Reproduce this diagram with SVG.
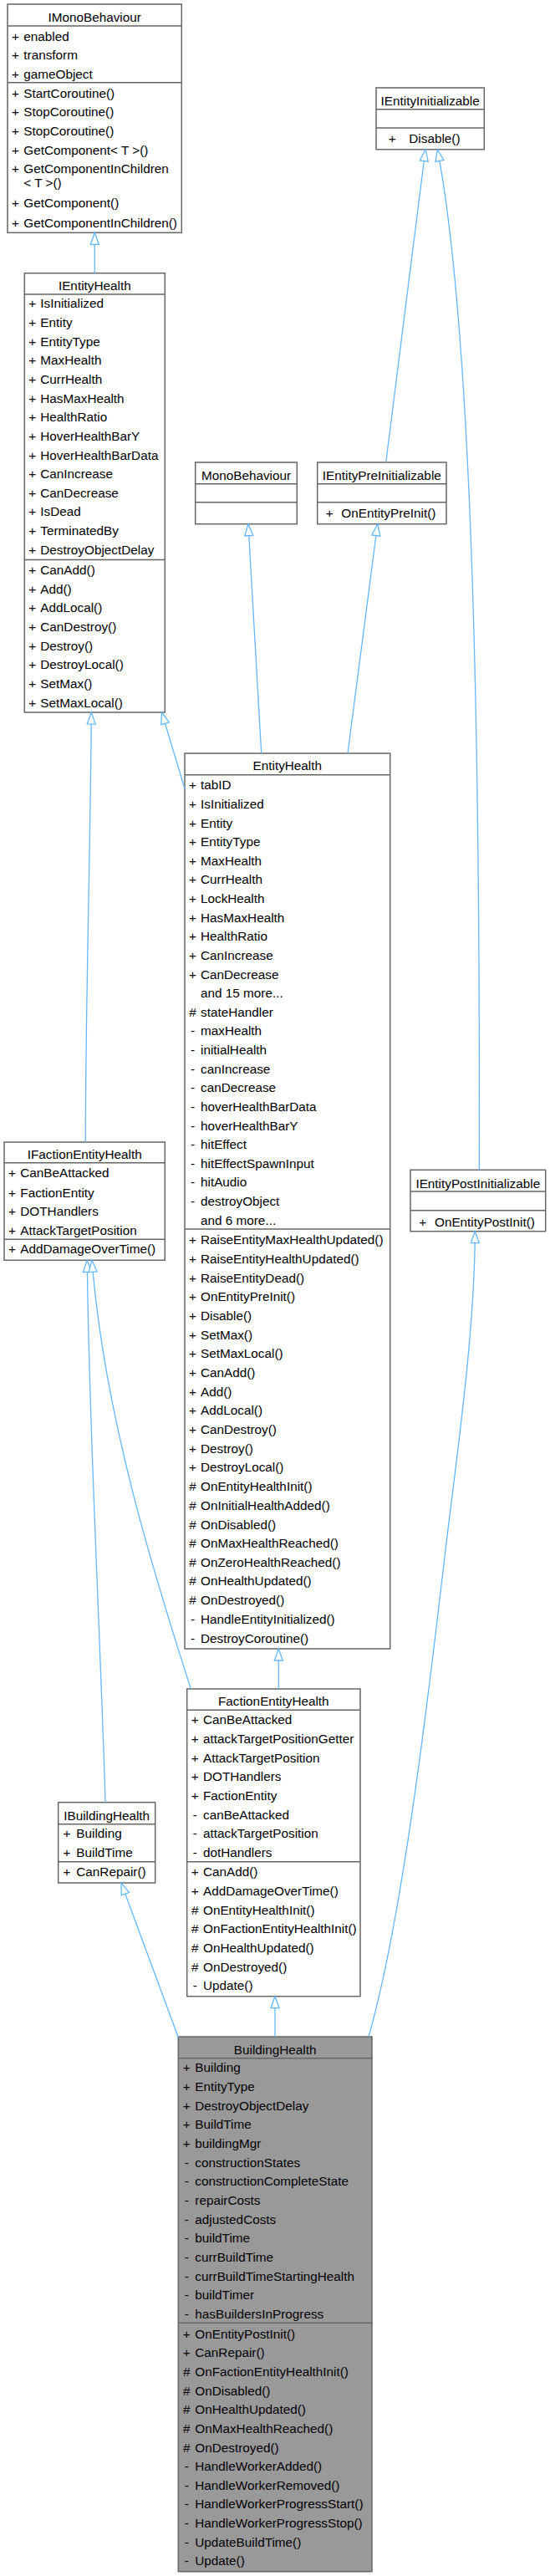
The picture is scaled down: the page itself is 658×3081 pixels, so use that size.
<svg xmlns="http://www.w3.org/2000/svg" width="658" height="3081" viewBox="0 0 658 3081">
<style>
.box{fill:#fff;stroke:#666;stroke-width:1.5}
.main{fill:#999;stroke:#666;stroke-width:1.5}
.sep{stroke:#666;stroke-width:1.5}
text{font-family:"Liberation Sans",Arial,Helvetica,sans-serif;font-size:15.3px;fill:#000}
.h,.s{text-anchor:middle}
.e{fill:none;stroke:#63b8ff;stroke-width:1.3;marker-end:url(#inh)}
</style>
<defs>
<marker id="inh" markerUnits="userSpaceOnUse" markerWidth="16" markerHeight="12" refX="14" refY="6" orient="auto" overflow="visible">
<path d="M0,1 L14,6 L0,11 Z" fill="#fff" stroke="#63b8ff" stroke-width="1.3"/>
</marker>
</defs>

<g id="IMonoBehaviour">
<rect class="box" x="9" y="5" width="208.3" height="273.3"/>
<line class="sep" x1="9" y1="31" x2="217.3" y2="31"/>
<line class="sep" x1="9" y1="98.7" x2="217.3" y2="98.7"/>
<text class="h" x="113.2" y="25.5">IMonoBehaviour</text>
<text class="s" x="18.5" y="48.5">+</text><text x="28.3" y="48.5">enabled</text>
<text class="s" x="18.5" y="71">+</text><text x="28.3" y="71">transform</text>
<text class="s" x="18.5" y="93.5">+</text><text x="28.3" y="93.5">gameObject</text>
<text class="s" x="18.5" y="117.3">+</text><text x="28.3" y="117.3">StartCoroutine()</text>
<text class="s" x="18.5" y="139.3">+</text><text x="28.3" y="139.3">StopCoroutine()</text>
<text class="s" x="18.5" y="161.6">+</text><text x="28.3" y="161.6">StopCoroutine()</text>
<text class="s" x="18.5" y="185">+</text><text x="28.3" y="185">GetComponent&lt; T &gt;()</text>
<text class="s" x="18.5" y="207">+</text><text x="28.3" y="207">GetComponentInChildren</text>
<text x="28.3" y="224">&lt; T &gt;()</text>
<text class="s" x="18.5" y="248.3">+</text><text x="28.3" y="248.3">GetComponent()</text>
<text class="s" x="18.5" y="271.7">+</text><text x="28.3" y="271.7">GetComponentInChildren()</text>
</g>

<g id="IEntityHealth">
<rect class="box" x="29.3" y="326.7" width="168" height="525.3"/>
<line class="sep" x1="29.3" y1="352" x2="197.3" y2="352"/>
<line class="sep" x1="29.3" y1="669.5" x2="197.3" y2="669.5"/>
<text class="h" x="113.3" y="346.7">IEntityHealth</text>
<text class="s" x="38.8" y="368.3">+</text><text x="48.3" y="368.3">IsInitialized</text>
<text class="s" x="38.8" y="390.95">+</text><text x="48.3" y="390.95">Entity</text>
<text class="s" x="38.8" y="413.6">+</text><text x="48.3" y="413.6">EntityType</text>
<text class="s" x="38.8" y="436.25">+</text><text x="48.3" y="436.25">MaxHealth</text>
<text class="s" x="38.8" y="458.9">+</text><text x="48.3" y="458.9">CurrHealth</text>
<text class="s" x="38.8" y="481.55">+</text><text x="48.3" y="481.55">HasMaxHealth</text>
<text class="s" x="38.8" y="504.2">+</text><text x="48.3" y="504.2">HealthRatio</text>
<text class="s" x="38.8" y="526.85">+</text><text x="48.3" y="526.85">HoverHealthBarY</text>
<text class="s" x="38.8" y="549.5">+</text><text x="48.3" y="549.5">HoverHealthBarData</text>
<text class="s" x="38.8" y="572.15">+</text><text x="48.3" y="572.15">CanIncrease</text>
<text class="s" x="38.8" y="594.8">+</text><text x="48.3" y="594.8">CanDecrease</text>
<text class="s" x="38.8" y="617.45">+</text><text x="48.3" y="617.45">IsDead</text>
<text class="s" x="38.8" y="640.1">+</text><text x="48.3" y="640.1">TerminatedBy</text>
<text class="s" x="38.8" y="662.75">+</text><text x="48.3" y="662.75">DestroyObjectDelay</text>
<text class="s" x="38.8" y="687">+</text><text x="48.3" y="687">CanAdd()</text>
<text class="s" x="38.8" y="709.65">+</text><text x="48.3" y="709.65">Add()</text>
<text class="s" x="38.8" y="732.3">+</text><text x="48.3" y="732.3">AddLocal()</text>
<text class="s" x="38.8" y="754.95">+</text><text x="48.3" y="754.95">CanDestroy()</text>
<text class="s" x="38.8" y="777.6">+</text><text x="48.3" y="777.6">Destroy()</text>
<text class="s" x="38.8" y="800.25">+</text><text x="48.3" y="800.25">DestroyLocal()</text>
<text class="s" x="38.8" y="822.9">+</text><text x="48.3" y="822.9">SetMax()</text>
<text class="s" x="38.8" y="845.55">+</text><text x="48.3" y="845.55">SetMaxLocal()</text>
</g>

<g id="IEntityInitializable">
<rect class="box" x="450" y="105" width="129.3" height="73.7"/>
<line class="sep" x1="450" y1="130.7" x2="579.3" y2="130.7"/>
<line class="sep" x1="450" y1="153" x2="579.3" y2="153"/>
<text class="h" x="514.7" y="126">IEntityInitializable</text>
<text class="s" x="469.3" y="170.5">+</text><text x="489.3" y="170.5">Disable()</text>
</g>

<g id="MonoBehaviour">
<rect class="box" x="233.7" y="553" width="121.6" height="73.7"/>
<line class="sep" x1="233.7" y1="578.7" x2="355.3" y2="578.7"/>
<line class="sep" x1="233.7" y1="600.7" x2="355.3" y2="600.7"/>
<text class="h" x="294.5" y="573.5">MonoBehaviour</text>
</g>

<g id="IEntityPreInitializable">
<rect class="box" x="379.7" y="553" width="154.3" height="73.7"/>
<line class="sep" x1="379.7" y1="578.7" x2="534" y2="578.7"/>
<line class="sep" x1="379.7" y1="600.7" x2="534" y2="600.7"/>
<text class="h" x="456.8" y="573.5">IEntityPreInitializable</text>
<text class="s" x="394.3" y="618.5">+</text><text x="408.3" y="618.5">OnEntityPreInit()</text>
</g>

<g id="EntityHealth">
<rect class="box" x="221" y="901" width="245.7" height="1071"/>
<line class="sep" x1="221" y1="926.7" x2="466.7" y2="926.7"/>
<line class="sep" x1="221" y1="1470" x2="466.7" y2="1470"/>
<text class="h" x="343.8" y="921">EntityHealth</text>
<text class="s" x="230.5" y="944.3">+</text><text x="240" y="944.3">tabID</text>
<text class="s" x="230.5" y="966.9">+</text><text x="240" y="966.9">IsInitialized</text>
<text class="s" x="230.5" y="989.5">+</text><text x="240" y="989.5">Entity</text>
<text class="s" x="230.5" y="1012.2">+</text><text x="240" y="1012.2">EntityType</text>
<text class="s" x="230.5" y="1034.8">+</text><text x="240" y="1034.8">MaxHealth</text>
<text class="s" x="230.5" y="1057.4">+</text><text x="240" y="1057.4">CurrHealth</text>
<text class="s" x="230.5" y="1080">+</text><text x="240" y="1080">LockHealth</text>
<text class="s" x="230.5" y="1102.6">+</text><text x="240" y="1102.6">HasMaxHealth</text>
<text class="s" x="230.5" y="1125.3">+</text><text x="240" y="1125.3">HealthRatio</text>
<text class="s" x="230.5" y="1147.9">+</text><text x="240" y="1147.9">CanIncrease</text>
<text class="s" x="230.5" y="1170.5">+</text><text x="240" y="1170.5">CanDecrease</text>
<text x="240" y="1193.1">and 15 more...</text>
<text class="s" x="230.5" y="1215.7">#</text><text x="240" y="1215.7">stateHandler</text>
<text class="s" x="230.5" y="1238.4">-</text><text x="240" y="1238.4">maxHealth</text>
<text class="s" x="230.5" y="1261">-</text><text x="240" y="1261">initialHealth</text>
<text class="s" x="230.5" y="1283.6">-</text><text x="240" y="1283.6">canIncrease</text>
<text class="s" x="230.5" y="1306.2">-</text><text x="240" y="1306.2">canDecrease</text>
<text class="s" x="230.5" y="1328.8">-</text><text x="240" y="1328.8">hoverHealthBarData</text>
<text class="s" x="230.5" y="1351.5">-</text><text x="240" y="1351.5">hoverHealthBarY</text>
<text class="s" x="230.5" y="1374.1">-</text><text x="240" y="1374.1">hitEffect</text>
<text class="s" x="230.5" y="1396.7">-</text><text x="240" y="1396.7">hitEffectSpawnInput</text>
<text class="s" x="230.5" y="1419.3">-</text><text x="240" y="1419.3">hitAudio</text>
<text class="s" x="230.5" y="1441.9">-</text><text x="240" y="1441.9">destroyObject</text>
<text x="240" y="1464.6">and 6 more...</text>
<text class="s" x="230.5" y="1488.1">+</text><text x="240" y="1488.1">RaiseEntityMaxHealthUpdated()</text>
<text class="s" x="230.5" y="1510.8">+</text><text x="240" y="1510.8">RaiseEntityHealthUpdated()</text>
<text class="s" x="230.5" y="1533.5">+</text><text x="240" y="1533.5">RaiseEntityDead()</text>
<text class="s" x="230.5" y="1556.2">+</text><text x="240" y="1556.2">OnEntityPreInit()</text>
<text class="s" x="230.5" y="1578.9">+</text><text x="240" y="1578.9">Disable()</text>
<text class="s" x="230.5" y="1601.6">+</text><text x="240" y="1601.6">SetMax()</text>
<text class="s" x="230.5" y="1624.2">+</text><text x="240" y="1624.2">SetMaxLocal()</text>
<text class="s" x="230.5" y="1646.9">+</text><text x="240" y="1646.9">CanAdd()</text>
<text class="s" x="230.5" y="1669.6">+</text><text x="240" y="1669.6">Add()</text>
<text class="s" x="230.5" y="1692.3">+</text><text x="240" y="1692.3">AddLocal()</text>
<text class="s" x="230.5" y="1715">+</text><text x="240" y="1715">CanDestroy()</text>
<text class="s" x="230.5" y="1737.7">+</text><text x="240" y="1737.7">Destroy()</text>
<text class="s" x="230.5" y="1760.4">+</text><text x="240" y="1760.4">DestroyLocal()</text>
<text class="s" x="230.5" y="1783.1">#</text><text x="240" y="1783.1">OnEntityHealthInit()</text>
<text class="s" x="230.5" y="1805.8">#</text><text x="240" y="1805.8">OnInitialHealthAdded()</text>
<text class="s" x="230.5" y="1828.5">#</text><text x="240" y="1828.5">OnDisabled()</text>
<text class="s" x="230.5" y="1851">#</text><text x="240" y="1851">OnMaxHealthReached()</text>
<text class="s" x="230.5" y="1873.7">#</text><text x="240" y="1873.7">OnZeroHealthReached()</text>
<text class="s" x="230.5" y="1896.4">#</text><text x="240" y="1896.4">OnHealthUpdated()</text>
<text class="s" x="230.5" y="1919.2">#</text><text x="240" y="1919.2">OnDestroyed()</text>
<text class="s" x="230.5" y="1941.9">-</text><text x="240" y="1941.9">HandleEntityInitialized()</text>
<text class="s" x="230.5" y="1964.6">-</text><text x="240" y="1964.6">DestroyCoroutine()</text>
</g>

<g id="IFactionEntityHealth">
<rect class="box" x="5" y="1366" width="192.3" height="141.3"/>
<line class="sep" x1="5" y1="1390.7" x2="197.3" y2="1390.7"/>
<line class="sep" x1="5" y1="1482.3" x2="197.3" y2="1482.3"/>
<text class="h" x="101.2" y="1386">IFactionEntityHealth</text>
<text class="s" x="14.5" y="1408.3">+</text><text x="24.3" y="1408.3">CanBeAttacked</text>
<text class="s" x="14.5" y="1431.5">+</text><text x="24.3" y="1431.5">FactionEntity</text>
<text class="s" x="14.5" y="1454">+</text><text x="24.3" y="1454">DOTHandlers</text>
<text class="s" x="14.5" y="1476.6">+</text><text x="24.3" y="1476.6">AttackTargetPosition</text>
<text class="s" x="14.5" y="1499.4">+</text><text x="24.3" y="1499.4">AddDamageOverTime()</text>
</g>

<g id="IEntityPostInitializable">
<rect class="box" x="491" y="1399.3" width="161.7" height="73.4"/>
<line class="sep" x1="491" y1="1425" x2="652.7" y2="1425"/>
<line class="sep" x1="491" y1="1447.7" x2="652.7" y2="1447.7"/>
<text class="h" x="571.8" y="1421">IEntityPostInitializable</text>
<text class="s" x="505.7" y="1467">+</text><text x="520" y="1467">OnEntityPostInit()</text>
</g>

<g id="FactionEntityHealth">
<rect class="box" x="223.7" y="2020" width="207.3" height="367.7"/>
<line class="sep" x1="223.7" y1="2045.3" x2="431" y2="2045.3"/>
<line class="sep" x1="223.7" y1="2226.7" x2="431" y2="2226.7"/>
<text class="h" x="327.3" y="2040">FactionEntityHealth</text>
<text class="s" x="233.3" y="2062.3">+</text><text x="243" y="2062.3">CanBeAttacked</text>
<text class="s" x="233.3" y="2085">+</text><text x="243" y="2085">attackTargetPositionGetter</text>
<text class="s" x="233.3" y="2107.6">+</text><text x="243" y="2107.6">AttackTargetPosition</text>
<text class="s" x="233.3" y="2130.3">+</text><text x="243" y="2130.3">DOTHandlers</text>
<text class="s" x="233.3" y="2152.9">+</text><text x="243" y="2152.9">FactionEntity</text>
<text class="s" x="233.3" y="2175.6">-</text><text x="243" y="2175.6">canBeAttacked</text>
<text class="s" x="233.3" y="2198.2">-</text><text x="243" y="2198.2">attackTargetPosition</text>
<text class="s" x="233.3" y="2220.9">-</text><text x="243" y="2220.9">dotHandlers</text>
<text class="s" x="233.3" y="2244.3">+</text><text x="243" y="2244.3">CanAdd()</text>
<text class="s" x="233.3" y="2267">+</text><text x="243" y="2267">AddDamageOverTime()</text>
<text class="s" x="233.3" y="2289.6">#</text><text x="243" y="2289.6">OnEntityHealthInit()</text>
<text class="s" x="233.3" y="2312.3">#</text><text x="243" y="2312.3">OnFactionEntityHealthInit()</text>
<text class="s" x="233.3" y="2334.9">#</text><text x="243" y="2334.9">OnHealthUpdated()</text>
<text class="s" x="233.3" y="2357.6">#</text><text x="243" y="2357.6">OnDestroyed()</text>
<text class="s" x="233.3" y="2380.4">-</text><text x="243" y="2380.4">Update()</text>
</g>

<g id="IBuildingHealth">
<rect class="box" x="69.7" y="2155.7" width="116" height="96.3"/>
<line class="sep" x1="69.7" y1="2181.7" x2="185.7" y2="2181.7"/>
<line class="sep" x1="69.7" y1="2226.7" x2="185.7" y2="2226.7"/>
<text class="h" x="127.7" y="2177">IBuildingHealth</text>
<text class="s" x="80" y="2198.3">+</text><text x="91.3" y="2198.3">Building</text>
<text class="s" x="80" y="2221">+</text><text x="91.3" y="2221">BuildTime</text>
<text class="s" x="80" y="2244.3">+</text><text x="91.3" y="2244.3">CanRepair()</text>
</g>

<g id="BuildingHealth">
<rect class="main" x="213.3" y="2436" width="231.7" height="639.7"/>
<line class="sep" x1="213.3" y1="2461.7" x2="445" y2="2461.7"/>
<line class="sep" x1="213.3" y1="2778.3" x2="445" y2="2778.3"/>
<text class="h" x="329.2" y="2457">BuildingHealth</text>
<text class="s" x="223.3" y="2478.3">+</text><text x="233.3" y="2478.3">Building</text>
<text class="s" x="223.3" y="2501">+</text><text x="233.3" y="2501">EntityType</text>
<text class="s" x="223.3" y="2523.6">+</text><text x="233.3" y="2523.6">DestroyObjectDelay</text>
<text class="s" x="223.3" y="2546.3">+</text><text x="233.3" y="2546.3">BuildTime</text>
<text class="s" x="223.3" y="2568.9">+</text><text x="233.3" y="2568.9">buildingMgr</text>
<text class="s" x="223.3" y="2591.6">-</text><text x="233.3" y="2591.6">constructionStates</text>
<text class="s" x="223.3" y="2614.2">-</text><text x="233.3" y="2614.2">constructionCompleteState</text>
<text class="s" x="223.3" y="2636.9">-</text><text x="233.3" y="2636.9">repairCosts</text>
<text class="s" x="223.3" y="2659.5">-</text><text x="233.3" y="2659.5">adjustedCosts</text>
<text class="s" x="223.3" y="2682.2">-</text><text x="233.3" y="2682.2">buildTime</text>
<text class="s" x="223.3" y="2704.8">-</text><text x="233.3" y="2704.8">currBuildTime</text>
<text class="s" x="223.3" y="2727.5">-</text><text x="233.3" y="2727.5">currBuildTimeStartingHealth</text>
<text class="s" x="223.3" y="2750.1">-</text><text x="233.3" y="2750.1">buildTimer</text>
<text class="s" x="223.3" y="2772.8">-</text><text x="233.3" y="2772.8">hasBuildersInProgress</text>
<text class="s" x="223.3" y="2796.7">+</text><text x="233.3" y="2796.7">OnEntityPostInit()</text>
<text class="s" x="223.3" y="2819.3">+</text><text x="233.3" y="2819.3">CanRepair()</text>
<text class="s" x="223.3" y="2841.9">#</text><text x="233.3" y="2841.9">OnFactionEntityHealthInit()</text>
<text class="s" x="223.3" y="2864.6">#</text><text x="233.3" y="2864.6">OnDisabled()</text>
<text class="s" x="223.3" y="2887.2">#</text><text x="233.3" y="2887.2">OnHealthUpdated()</text>
<text class="s" x="223.3" y="2909.9">#</text><text x="233.3" y="2909.9">OnMaxHealthReached()</text>
<text class="s" x="223.3" y="2932.5">#</text><text x="233.3" y="2932.5">OnDestroyed()</text>
<text class="s" x="223.3" y="2955.1">-</text><text x="233.3" y="2955.1">HandleWorkerAdded()</text>
<text class="s" x="223.3" y="2977.7">-</text><text x="233.3" y="2977.7">HandleWorkerRemoved()</text>
<text class="s" x="223.3" y="3000.4">-</text><text x="233.3" y="3000.4">HandleWorkerProgressStart()</text>
<text class="s" x="223.3" y="3023">-</text><text x="233.3" y="3023">HandleWorkerProgressStop()</text>
<text class="s" x="223.3" y="3045.6">-</text><text x="233.3" y="3045.6">UpdateBuildTime()</text>
<text class="s" x="223.3" y="3068.3">-</text><text x="233.3" y="3068.3">Update()</text>
</g>

<g id="edges">
<path class="e" d="M113.3,326.7 L113.3,278.3"/>
<path class="e" d="M221,943.3 L193.5,852"/>
<path class="e" d="M312.7,901 L297,626.7"/>
<path class="e" d="M416,901 L451.7,626.7"/>
<path class="e" d="M461.7,553 L509,178.7"/>
<path class="e" d="M573.3,1399.3 C574.5,900 566,400 523.3,178.7"/>
<path class="e" d="M441,2436 C480,2300 510,2050 530,1879 C545,1750 568,1600 568.3,1472.7"/>
<path class="e" d="M333.3,2020 L333.3,1972"/>
<path class="e" d="M329,2436 L329,2387.7"/>
<path class="e" d="M213.3,2436.7 L145,2252"/>
<path class="e" d="M126,2155.7 C120,1950 106,1700 104.3,1507.3"/>
<path class="e" d="M228.3,2020 C190,1900 125,1700 110,1507.3"/>
<path class="e" d="M102.3,1366 C102.3,1200 108.5,1000 109.3,852"/>
</g>
</svg>
